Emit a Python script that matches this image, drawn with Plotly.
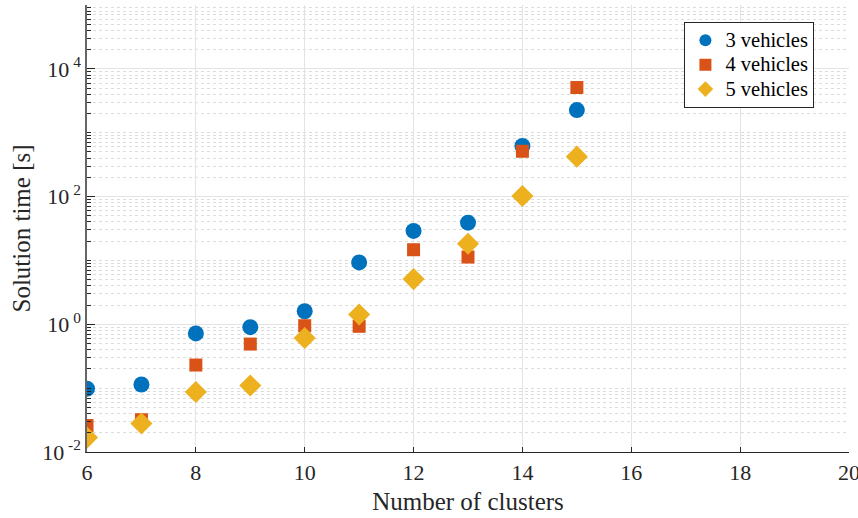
import plotly.graph_objects as go
import numpy as np

clusters = [6, 7, 8, 9, 10, 11, 12, 13, 14, 15]
t3 = [0.098, 0.114, 0.72, 0.90, 1.6, 9.3, 29, 39, 620, 2260]
t4 = [0.026, 0.032, 0.23, 0.49, 0.95, 0.93, 14.7, 11.3, 512, 5100]
t5 = [0.0168, 0.028, 0.087, 0.11, 0.61, 1.42, 5.1, 18.2, 102, 422]
names = ["3 vehicles", "4 vehicles", "5 vehicles"]
colors = ["#0072BD", "#D95319", "#EDB120"]
symbols = ["circle", "square", "diamond"]
sizes = [16, 13, 17]

ytick_vals = [1e-2, 1e0, 1e2, 1e4]
ytick_text = ["10<sup> -2</sup>", "10<sup> 0</sup>", "10<sup> 2</sup>", "10<sup> 4</sup>"]
xtick_vals = [6, 8, 10, 12, 14, 16, 18, 20]

minor_y = [m * 10.0 ** e for e in range(-2, 5) for m in range(1, 10) if not (m == 1 and e % 2 == 0)]

font = "Liberation Serif, Times New Roman, serif"
fig = go.Figure()
for series, n, c, s, sz in zip([t3, t4, t5], names, colors, symbols, sizes):
    fig.add_trace(go.Scatter(x=clusters, y=series, mode="markers",
                             name='<span style="font-size:20.5px">' + n + '</span>',
                             marker=dict(color=c, symbol=s, size=sz, line=dict(width=0))))

fig.update_layout(
    width=858, height=518,
    margin=dict(l=87, r=9, t=5, b=66, autoexpand=False),
    plot_bgcolor="white", paper_bgcolor="white",
    font=dict(family=font, size=20, color="#262626"),
    showlegend=True,
    legend=dict(x=0.784, y=0.962, xanchor="left", yanchor="top",
                bgcolor="white", bordercolor="#262626", borderwidth=1,
                font=dict(family=font, size=16.5, color="#000000"),
                itemsizing="constant", tracegroupgap=0, itemwidth=30),
    xaxis=dict(range=[6, 20], tickvals=xtick_vals, ticks="inside", ticklen=5,
               tickcolor="#262626", showline=True, linecolor="#262626", linewidth=1.2,
               showgrid=True, gridcolor="#e3e3e3", gridwidth=1, zeroline=False,
               automargin=False, ticklabeloverflow="allow",
               title=dict(text="Number of clusters", font=dict(family=font, size=25), standoff=8),
               tickfont=dict(family=font, size=22)),
    yaxis=dict(type="log", range=[-2, 5], tickvals=ytick_vals, ticktext=ytick_text,
               ticks="inside", ticklen=8, tickcolor="#262626", showline=True,
               linecolor="#666666", linewidth=1.5, showgrid=True, gridcolor="#e3e3e3",
               gridwidth=1, zeroline=False, automargin=False,
               minor=dict(tickvals=minor_y, ticks="inside", ticklen=4, tickcolor="#262626",
                          showgrid=True, gridcolor="#dcdcdc", griddash="dot", gridwidth=1),
               title=dict(text="Solution time [s]", font=dict(family=font, size=25), standoff=4),
               tickfont=dict(family=font, size=22)),
)
fig.write_html("out.html", config={"displayModeBar": False},
               post_script="document.body.style.margin='0';document.body.style.padding='0';")
